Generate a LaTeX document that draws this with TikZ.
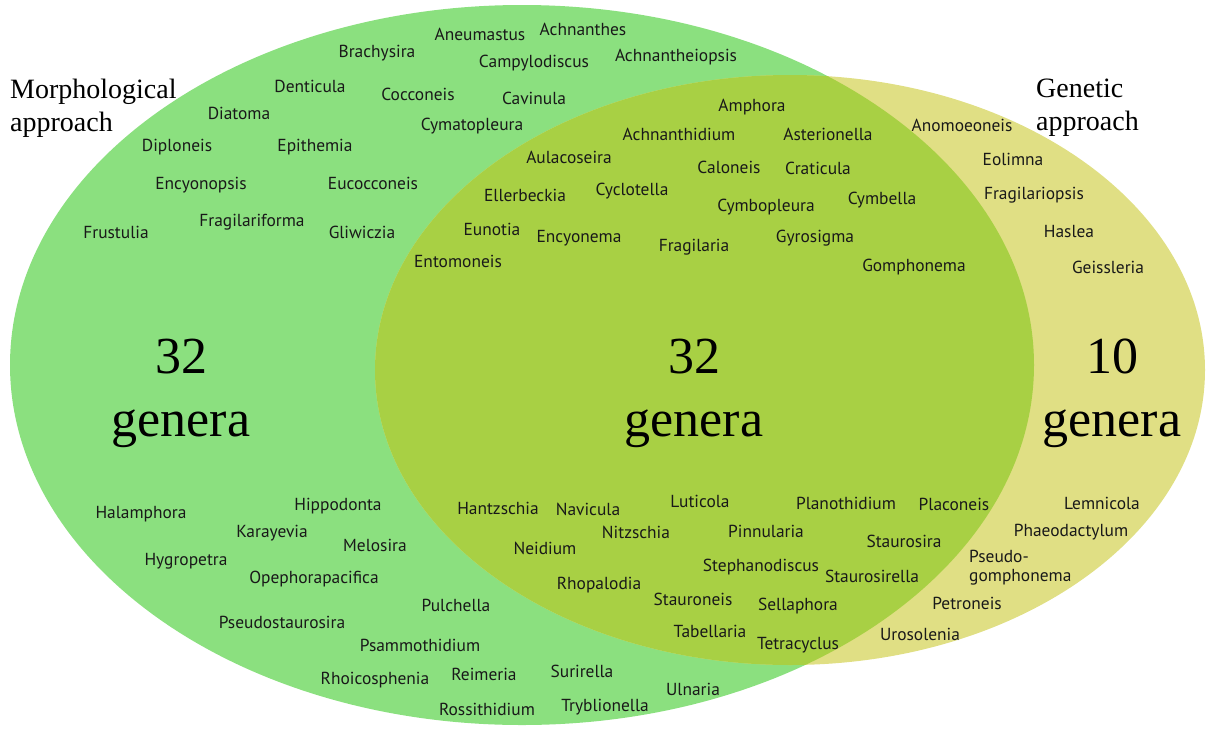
\documentclass[tikz,border=0pt]{standalone}
\usepackage{fontspec}
\setmainfont{Liberation Serif}
\setsansfont{PT Sans}
\usepackage{xcolor}
\usepackage{tikz}
\usetikzlibrary{positioning}

\definecolor{morphgreen}{HTML}{8BE07F}
\definecolor{genyellow}{HTML}{E0DF84}
\definecolor{bothgreen}{HTML}{A8D044}

\begin{document}
\begin{tikzpicture}[
    x=1pt, y=-1pt,
    genus/.style={font=\sffamily\fontsize{17.4}{19}\selectfont, inner sep=0pt, text=black!90},
    count/.style={font=\fontsize{52}{63}\selectfont, align=center, inner sep=0pt},
    approach/.style={font=\fontsize{28}{33}\selectfont, align=left, inner sep=0pt, anchor=north west},
]
\useasboundingbox (0,0) rectangle (1208,729);

% Sets
\fill[morphgreen] (522,365) ellipse [x radius=512pt, y radius=360pt];
\fill[genyellow] (790,370) ellipse [x radius=415pt, y radius=295pt];
\begin{scope}
  \clip (522,365) ellipse [x radius=512pt, y radius=360pt];
  \fill[bothgreen] (790,370) ellipse [x radius=415pt, y radius=295pt];
\end{scope}

% Titles
\node[approach] (morph) at (10,79) {Morphological\\approach};
\node[approach] (genet) at (1036,79) {Genetic\\approach};

% Counts
\node[count] (nmorph) at (181,393) {32\\genera};
\node[count] (nboth) at (694,393) {32\\genera};
\node[count] (ngen) at (1112,393) {10\\genera};

% Morphological only, top
\node[genus] (brachysira) at (377,53) {Brachysira};
\node[genus] (aneumastus) at (480,34) {Aneumastus};
\node[genus] (achnanthes) at (583,29) {Achnanthes};
\node[genus] (campylodiscus) at (534,63) {Campylodiscus};
\node[genus] (achnantheiopsis) at (676,57) {Achnantheiopsis};
\node[genus] (denticula) at (310,86) {Denticula};
\node[genus] (cocconeis) at (418,94) {Cocconeis};
\node[genus] (cavinula) at (534,98) {Cavinula};
\node[genus] (diatoma) at (239,113) {Diatoma};
\node[genus] (cymatopleura) at (472,126) {Cymatopleura};
\node[genus] (diploneis) at (177,147) {Diploneis};
\node[genus] (epithemia) at (315,147) {Epithemia};
\node[genus] (encyonopsis) at (201,185) {Encyonopsis};
\node[genus] (eucocconeis) at (373,183) {Eucocconeis};
\node[genus] (frustulia) at (116,232) {Frustulia};
\node[genus] (fragilariforma) at (252,222) {Fragilariforma};
\node[genus] (gliwiczia) at (362,232) {Gliwiczia};

% Morphological only, bottom
\node[genus] (halamphora) at (141,514) {Halamphora};
\node[genus] (hippodonta) at (338,506) {Hippodonta};
\node[genus] (karayevia) at (272,533) {Karayevia};
\node[genus] (melosira) at (375,545) {Melosira};
\node[genus] (hygropetra) at (186,561) {Hygropetra};
\node[genus] (opephora) at (314,579) {Opephorapacifica};
\node[genus] (pulchella) at (456,605) {Pulchella};
\node[genus] (pseudostaurosira) at (282,622) {Pseudostaurosira};
\node[genus] (psammothidium) at (420,645) {Psammothidium};
\node[genus] (rhoicosphenia) at (375,680) {Rhoicosphenia};
\node[genus] (reimeria) at (484,674) {Reimeria};
\node[genus] (rossithidium) at (487,709) {Rossithidium};
\node[genus] (surirella) at (582,671) {Surirella};
\node[genus] (tryblionella) at (605,707) {Tryblionella};
\node[genus] (ulnaria) at (693,689) {Ulnaria};

% Both approaches, top
\node[genus] (amphora) at (752,107) {Amphora};
\node[genus] (achnanthidium) at (679,134) {Achnanthidium};
\node[genus] (asterionella) at (828,134) {Asterionella};
\node[genus] (aulacoseira) at (569,157) {Aulacoseira};
\node[genus] (caloneis) at (729,167) {Caloneis};
\node[genus] (craticula) at (818,168) {Craticula};
\node[genus] (ellerbeckia) at (525,195) {Ellerbeckia};
\node[genus] (cyclotella) at (632,191) {Cyclotella};
\node[genus] (cymbopleura) at (766,207) {Cymbopleura};
\node[genus] (cymbella) at (882,200) {Cymbella};
\node[genus] (eunotia) at (492,229) {Eunotia};
\node[genus] (encyonema) at (579,238) {Encyonema};
\node[genus] (fragilaria) at (694,247) {Fragilaria};
\node[genus] (gyrosigma) at (815,238) {Gyrosigma};
\node[genus] (entomoneis) at (458,261) {Entomoneis};
\node[genus] (gomphonema) at (914,267) {Gomphonema};

% Both approaches, bottom
\node[genus] (hantzschia) at (498,508) {Hantzschia};
\node[genus] (navicula) at (588,509) {Navicula};
\node[genus] (luticola) at (700,501) {Luticola};
\node[genus] (planothidium) at (846,503) {Planothidium};
\node[genus] (placoneis) at (954,504) {Placoneis};
\node[genus] (nitzschia) at (636,532) {Nitzschia};
\node[genus] (pinnularia) at (766,531) {Pinnularia};
\node[genus] (neidium) at (545,548) {Neidium};
\node[genus] (staurosira) at (904,541) {Staurosira};
\node[genus] (stephanodiscus) at (761,567) {Stephanodiscus};
\node[genus] (staurosirella) at (872,576) {Staurosirella};
\node[genus] (rhopalodia) at (599,585) {Rhopalodia};
\node[genus] (stauroneis) at (693,599) {Stauroneis};
\node[genus] (sellaphora) at (798,606) {Sellaphora};
\node[genus] (tabellaria) at (710,631) {Tabellaria};
\node[genus] (tetracyclus) at (798,645) {Tetracyclus};

% Genetic only
\node[genus] (anomoeoneis) at (962,125) {Anomoeoneis};
\node[genus] (eolimna) at (1013,159) {Eolimna};
\node[genus] (fragilariopsis) at (1034,195) {Fragilariopsis};
\node[genus] (haslea) at (1069,232) {Haslea};
\node[genus] (geissleria) at (1108,267) {Geissleria};
\node[genus] (lemnicola) at (1102,503) {Lemnicola};
\node[genus] (phaeodactylum) at (1071,532) {Phaeodactylum};
\node[genus, align=left, anchor=west] (pseudogomph) at (969,568) {Pseudo-\\gomphonema};
\node[genus] (petroneis) at (967,603) {Petroneis};
\node[genus] (urosolenia) at (920,634) {Urosolenia};

\end{tikzpicture}
\end{document}
